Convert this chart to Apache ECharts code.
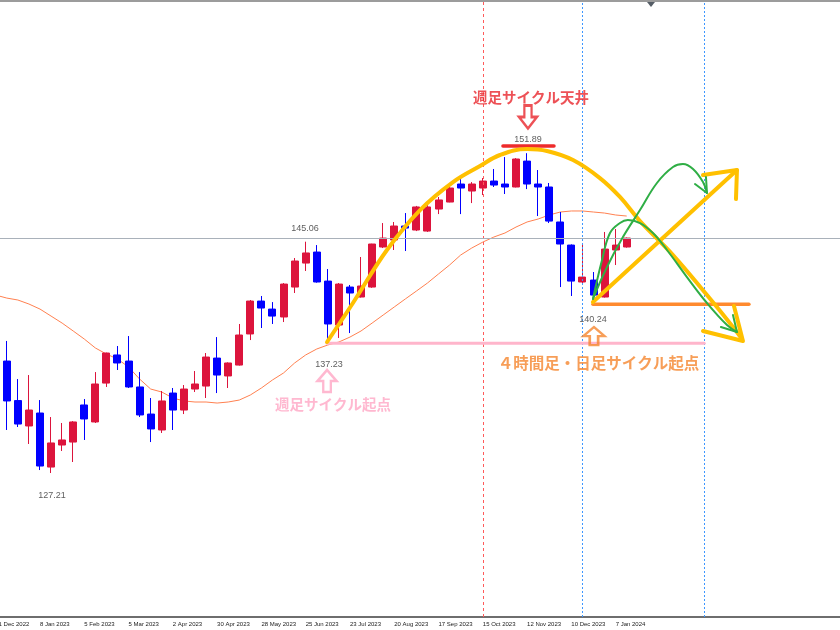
<!DOCTYPE html>
<html><head><meta charset="utf-8">
<script src="https://cdn.jsdelivr.net/npm/echarts@6/dist/echarts.min.js"></script>
<style>html,body{margin:0;padding:0;background:#fff}#c{width:840px;height:630px}</style>
</head><body><div id="c"></div>
<script>
// ---- categories (weekly, Sunday-dated) ----
const categories = [
 '11 Dec 2022','18 Dec 2022','25 Dec 2022','1 Jan 2023','8 Jan 2023','15 Jan 2023','22 Jan 2023','29 Jan 2023',
 '5 Feb 2023','12 Feb 2023','19 Feb 2023','26 Feb 2023','5 Mar 2023','12 Mar 2023','19 Mar 2023','26 Mar 2023',
 '2 Apr 2023','9 Apr 2023','16 Apr 2023','23 Apr 2023','30 Apr 2023','7 May 2023','14 May 2023','21 May 2023',
 '28 May 2023','4 Jun 2023','11 Jun 2023','18 Jun 2023','25 Jun 2023','2 Jul 2023','9 Jul 2023','16 Jul 2023',
 '23 Jul 2023','30 Jul 2023','6 Aug 2023','13 Aug 2023','20 Aug 2023','27 Aug 2023','3 Sep 2023','10 Sep 2023',
 '17 Sep 2023','24 Sep 2023','1 Oct 2023','8 Oct 2023','15 Oct 2023','22 Oct 2023','29 Oct 2023','5 Nov 2023',
 '12 Nov 2023','19 Nov 2023','26 Nov 2023','3 Dec 2023','10 Dec 2023','17 Dec 2023','24 Dec 2023','31 Dec 2023',
 '7 Jan 2024','14 Jan 2024','21 Jan 2024','28 Jan 2024','4 Feb 2024','11 Feb 2024','18 Feb 2024','25 Feb 2024',
 '3 Mar 2024','10 Mar 2024','17 Mar 2024','24 Mar 2024','31 Mar 2024','7 Apr 2024','14 Apr 2024','21 Apr 2024',
 '28 Apr 2024','5 May 2024','12 May 2024','19 May 2024','26 May 2024'
];
const lastLabelIndex = 56;

// ---- weekly OHLC (index 0 is off-screen) ----
const opens  = [null,135.85,132.80,130.84,131.84,127.67,129.37,129.60,132.46,131.15,134.15,136.32,135.85,133.85,131.76,130.53,
 133.38,132.07,133.69,133.92,136.08,134.70,135.54,137.94,140.48,139.86,139.25,141.56,143.41,144.26,142.02,138.63,
 141.56,140.79,141.56,144.65,145.19,146.27,145.96,145.88,147.58,148.12,149.51,148.97,149.20,149.74,149.51,149.28,
 151.28,149.51,149.28,146.58,144.80,141.95,142.10,140.79,144.42,144.65];
const closes = [null,132.77,130.99,132.07,127.75,129.53,129.76,131.15,131.38,134.08,136.47,135.70,133.85,131.69,130.61,132.77,
 132.07,133.69,134.08,136.16,134.77,135.70,137.86,140.48,139.94,139.32,141.79,143.57,144.19,141.95,138.71,141.79,
 141.10,141.64,144.88,145.34,146.27,146.11,147.74,147.74,148.28,149.20,149.20,149.51,149.74,149.43,149.28,151.44,
 149.51,149.28,146.65,144.88,142.02,142.33,140.94,144.49,144.80,145.34];
const lows   = [null,130.53,130.76,129.45,127.44,127.21,128.91,128.06,129.76,131.07,133.85,135.16,133.77,131.53,129.60,130.30,
 130.53,131.76,133.46,133.00,133.38,133.77,135.50,137.47,138.40,138.71,138.86,141.10,142.80,141.90,137.40,137.63,
 138.01,140.75,141.50,144.57,144.42,144.34,145.88,145.81,147.19,148.10,147.19,148.04,148.66,149.28,148.74,149.25,
 149.12,147.04,146.50,141.56,140.87,141.87,140.87,140.75,143.26,144.60];
const highs  = [null,137.40,134.46,134.77,132.84,131.53,131.07,131.22,132.92,135.00,136.50,137.01,137.78,135.00,133.00,133.54,
 133.77,134.00,135.08,136.47,137.70,135.75,138.71,140.56,140.87,140.40,141.87,143.80,145.06,144.80,142.95,141.87,
 141.72,143.88,144.90,146.50,146.58,147.27,147.82,147.89,148.51,149.59,150.05,149.66,149.97,150.67,151.59,151.51,
 151.89,150.59,149.59,147.35,144.85,144.88,142.72,145.81,146.04,145.38];
// moving average
const maValues = [140.94,140.71,140.56,140.25,139.86,139.32,138.78,138.17,137.55,136.86,136.39,136.01,135.39,134.46,133.69,133.46,
 133.00,132.77,132.69,132.69,132.61,132.69,132.84,133.23,133.77,134.39,134.93,135.70,136.32,136.78,137.09,137.32,
 137.70,138.17,138.78,139.40,140.02,140.64,141.25,141.87,142.57,143.26,144.03,144.57,145.03,145.42,145.73,146.19,
 146.58,146.81,147.12,147.35,147.43,147.43,147.35,147.27,147.12,147.04];
const currentPrice = 145.34;

// ---- key levels / labels ----
const cycleTop = 151.89, weeklyStart = 137.23, dailyStart = 140.24, highLabel = 145.06, lowLabel = 127.21;
const redVLine = '15 Oct 2023', blueVLines = ['17 Dec 2023', '3 Mar 2024'];

// ---- hand-drawn annotations: [week index (fractional), price] ----
const yellowArc = [[29.93,137.32],[32.27,140.33],[35.34,144.42],[38.33,147.50],[41.31,149.66],[43.75,150.90],[45.55,151.75],
 [47.99,152.21],[49.80,152.06],[52.15,151.36],[54.58,149.97],[56.39,148.51],[58.20,146.65],[61.18,144.03],[64.25,140.94],
 [66.60,138.48],[67.41,137.55]];
const yellowArcHead = [[63.89,138.17],[67.50,137.40],[66.69,140.10]];
const yellowUp = [[53.95,140.40],[66.96,150.59]];
const yellowUpHead = [[63.89,150.20],[66.96,150.59],[66.87,148.35]];
const greenA = [[53.95,140.64],[55.22,143.11],[56.66,145.42],[58.20,147.50],[59.73,149.59],[61.18,150.82],[62.08,151.05],
 [62.99,150.67],[63.89,149.66],[64.25,148.82]];
const greenAHead = [[63.17,149.51],[64.25,148.82],[64.16,150.05]];
const greenB = [[53.95,140.64],[54.77,143.65],[55.49,145.73],[56.39,146.50],[57.11,146.73],[58.20,146.50],[59.37,145.73],
 [60.64,144.42],[62.44,142.33],[64.25,140.33],[66.06,138.63],[66.96,138.09]];
const greenBHead = [[65.51,138.48],[66.96,138.09],[66.60,139.40]];
const redTopLine = [[45.82,152.44],[50.43,152.44]];
const orangeLine = [[53.95,dailyStart],[68.04,dailyStart]];
const pinkLine = [[29.93,weeklyStart],[64.0,weeklyStart]];

const BAND = 11.07;
const N = categories.length;
const labelFn = (i) => i % 4 === 0 && i <= lastLabelIndex;

const candles = opens.map((o,i) => o == null ? '-' : [o, closes[i], lows[i], highs[i]]);

function annLine(data, color, width, smooth) {
  return {type:'line', xAxisIndex:1, data, symbol:'none', smooth: smooth || false, silent:true, z:5,
    lineStyle:{color, width, cap:'round', join:'round'}};
}
function vLineSeries(cats, color, dash) {
  return {type:'line', data:[], silent:true, z:1,
    markLine:{silent:true, symbol:['none','none'], label:{show:false}, animation:false,
      lineStyle:{color, type:dash, width:1}, data: cats.map(c => ({xAxis:c}))}};
}
const upArrow = 'path://M10,0 L20,11 L14,11 L14,22 L6,22 L6,11 L0,11 Z';

const chart = echarts.init(document.getElementById('c'));
chart.setOption({
  animation:false,
  backgroundColor:'#ffffff',
  grid:{left: 40 - 4.5*BAND, top:0, width: N*BAND, height:617, containLabel:false, outerBoundsMode:'none'},
  xAxis:[
    {type:'category', data:categories, boundaryGap:true,
     axisLine:{lineStyle:{color:'#6e6e6e', width:2}},
     axisTick:{alignWithLabel:true, interval:labelFn, length:4, lineStyle:{color:'#444'}},
     axisLabel:{interval:labelFn, align:'left', fontSize:6, margin:4, color:'#222', fontFamily:'Liberation Sans'},
     splitLine:{show:false}},
    {type:'value', min:-0.5, max:N-0.5, show:false, splitLine:{show:false}}
  ],
  yAxis:{type:'value', min:116.10, max:163.71, show:false, splitLine:{show:false}},
  graphic:[
    {type:'rect', shape:{x:0,y:0,width:840,height:2}, style:{fill:'#9c9c9c'}, z:100},
    {type:'polygon', shape:{points:[[647,2],[655,2],[651,7]]}, style:{fill:'#555d66'}, z:100}
  ],
  series:[
    vLineSeries([redVLine], '#FF5A5A', [3,3]),
    vLineSeries(blueVLines, '#3D97FF', [2,2]),
    {type:'line', data:[], silent:true, z:1,
     markLine:{silent:true, symbol:['none','none'], label:{show:false},
       lineStyle:{color:'#A9B1BA', type:'solid', width:1}, data:[{yAxis:currentPrice}]}},
    {type:'candlestick', data:candles, barWidth:7.5, z:3,
     itemStyle:{color:'#DC143C', color0:'#0000FF', borderColor:'#DC143C', borderColor0:'#0000FF', borderWidth:1}},
    {type:'line', data:maValues, symbol:'none', silent:true, z:2, lineStyle:{color:'#FF8050', width:1}},
    annLine(pinkLine, '#FFB5CB', 3),
    annLine(orangeLine, '#FF8A2E', 3.5),
    annLine(redTopLine, '#EE2B2B', 3.5),
    annLine(yellowArc, '#FFC000', 4, 0.4),
    annLine(yellowArcHead, '#FFC000', 4),
    annLine(yellowUp, '#FFC000', 4),
    annLine(yellowUpHead, '#FFC000', 4),
    annLine(greenA, '#2FAE45', 2, 0.4),
    annLine(greenAHead, '#2FAE45', 2),
    annLine(greenB, '#2FAE45', 2, 0.4),
    annLine(greenBHead, '#2FAE45', 2),
    {type:'scatter', xAxisIndex:1, symbolSize:0, silent:true, z:6,
     label:{show:true, position:'inside', formatter:'{b}', color:'#333', fontSize:9, fontFamily:'Liberation Sans'},
     data:[
       {name:String(cycleTop), value:[48.08,152.98]},
       {name:highLabel.toFixed(2), value:[27.94,146.11]},
       {name:String(weeklyStart), value:[30.11,135.62]},
       {name:String(lowLabel), value:[5.08,125.44]},
       {name:String(dailyStart), value:[53.95,139.09]}
     ]},
    {type:'scatter', xAxisIndex:1, symbolSize:0, silent:true, z:6,
     label:{show:true, position:'inside', formatter:'{b}', fontSize:14.5, fontWeight:'bold', fontFamily:'Noto Sans CJK JP'},
     data:[
       {name:'週足サイクル天井', value:[48.35,156.22], label:{color:'#E8262C'}},
       {name:'４時間足・日足サイクル起点', value:[54.45,135.70], label:{color:'#F5862E', fontSize:15.5}},
       {name:'週足サイクル起点', value:[30.47,132.53], label:{color:'#FFA6C4'}}
     ]},
    {type:'scatter', xAxisIndex:1, symbol:upArrow, silent:true, z:6,
     itemStyle:{color:'rgba(255,255,255,0)', borderWidth:2.5},
     data:[
       {value:[48.08,154.68], symbolSize:[18,23], symbolRotate:180, itemStyle:{borderColor:'#E8262C'}},
       {value:[54.04,137.78], symbolSize:[21,18], itemStyle:{borderColor:'#F5862E'}},
       {value:[29.93,134.31], symbolSize:[19,22], itemStyle:{borderColor:'#FFA6C4'}}
     ]}
  ]
});
</script></body></html>
